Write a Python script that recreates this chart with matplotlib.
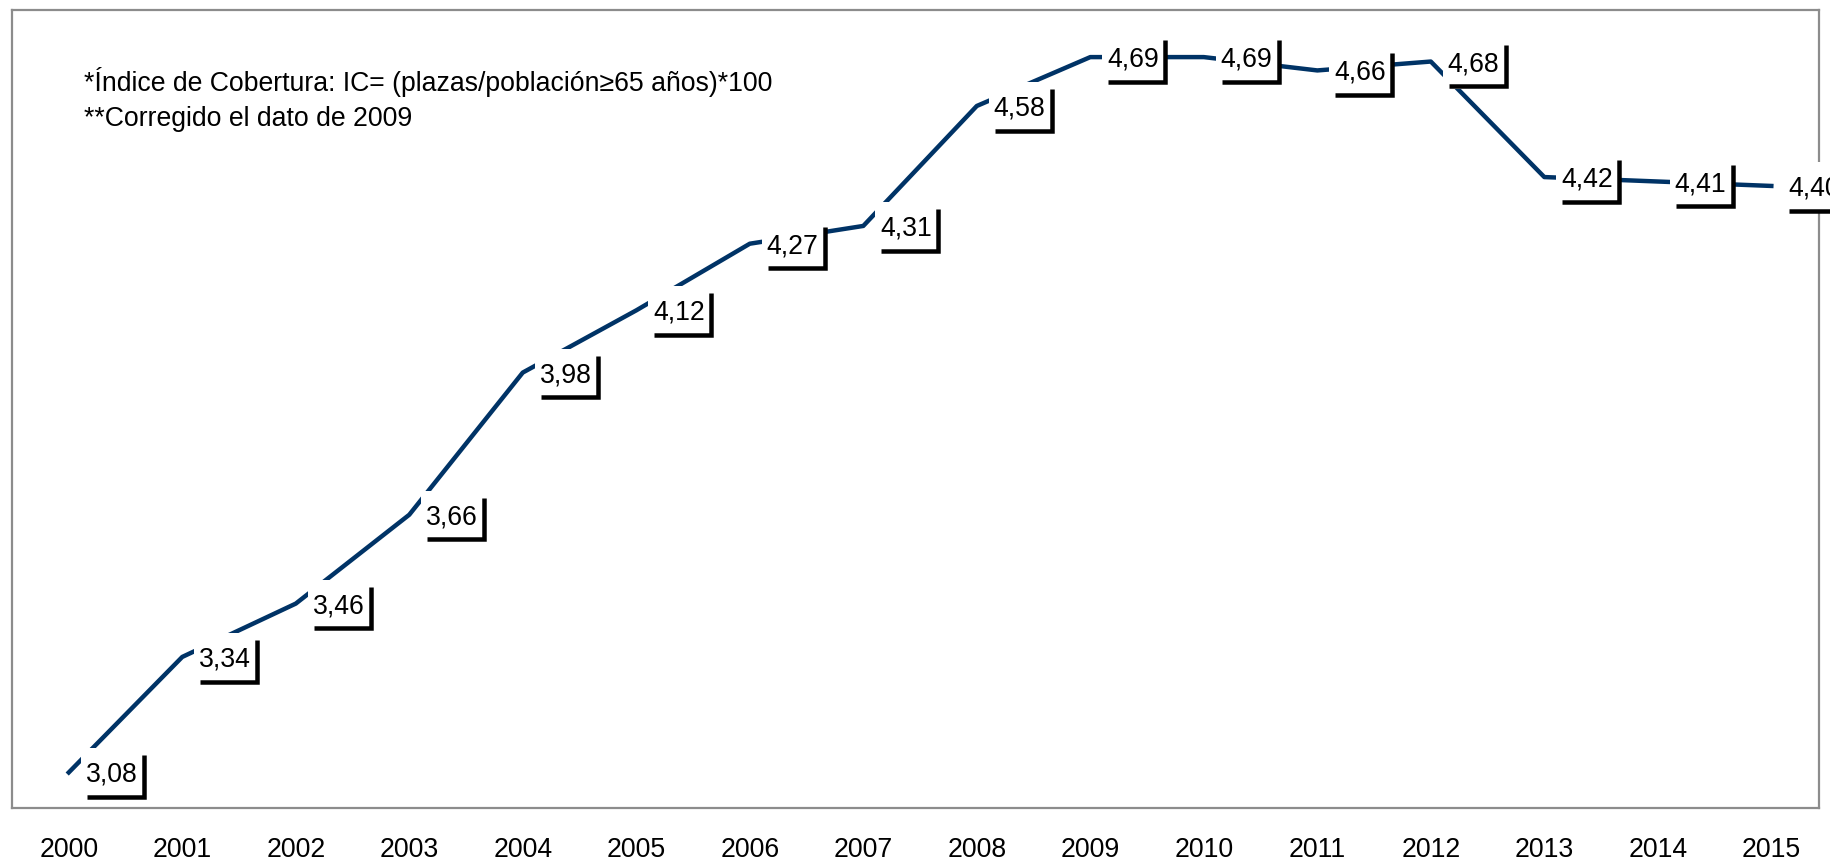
import matplotlib
matplotlib.use('Agg')
import matplotlib.pyplot as plt
from matplotlib.patches import Rectangle
from matplotlib.lines import Line2D
from matplotlib.transforms import IdentityTransform

# datos: indice de cobertura por año
anios = ['2000', '2001', '2002', '2003', '2004', '2005', '2006', '2007',
         '2008', '2009', '2010', '2011', '2012', '2013', '2014', '2015']
valores = [3.08, 3.34, 3.46, 3.66, 3.98, 4.12, 4.27, 4.31,
           4.58, 4.69, 4.69, 4.66, 4.68, 4.42, 4.41, 4.40]
notas = ['*Índice de Cobertura: IC= (plazas/población≥65 años)*100',
         '**Corregido el dato de 2009']

plt.rcParams['font.family'] = ['Liberation Sans', 'DejaVu Sans']
DPI = 100
fs = 19.2

fig = plt.figure(figsize=(18.31, 8.61), dpi=DPI)
ax = fig.add_axes([12 / 1831, 53 / 861, 1807 / 1831, 798 / 861])
x = list(range(len(anios)))
ax.plot(x, valores, color='#003366', lw=3.2, solid_joinstyle='round', zorder=2)
ax.set_xlim(-0.5, 15.42)
ax.set_ylim(3.0, 4.796)
ax.set_xticks(x)
ax.set_xticklabels(anios, fontsize=fs)
ax.set_yticks([])
ax.tick_params(axis='x', length=0, pad=21)
for s in ax.spines.values():
    s.set_color('#8c8c8c')
    s.set_linewidth(1.6)

# notas arriba a la izquierda
ax.text(0.0398, 0.8985, notas[0], transform=ax.transAxes, fontsize=fs, va='baseline', ha='left')
ax.text(0.0398, 0.8546, notas[1], transform=ax.transAxes, fontsize=fs, va='baseline', ha='left')

# etiquetas de datos con caja blanca y esquina negra (en pixeles)
# la ultima se sale del marco y la corta el borde de la imagen, como en el original
lw_bar = 4.5
for i, v in enumerate(valores):
    px, py = ax.transData.transform((i, v))
    caja = Rectangle((px + 12, py - 27), 65, 51, transform=IdentityTransform(),
                     facecolor='white', edgecolor='none', zorder=3, clip_on=False)
    ax.add_patch(caja)
    esquina = Line2D([px + 18, px + 77 - lw_bar / 2, px + 77 - lw_bar / 2],
                     [py - 27 + lw_bar / 2, py - 27 + lw_bar / 2, py + 17],
                     transform=IdentityTransform(), color='black',
                     lw=lw_bar * 72 / DPI, solid_joinstyle='miter',
                     solid_capstyle='butt', zorder=4, clip_on=False)
    ax.add_line(esquina)
    ax.text(px + 17, py - 9.5, f'{v:.2f}'.replace('.', ','), transform=IdentityTransform(),
            fontsize=fs, ha='left', va='baseline', zorder=5, clip_on=False)

fig.savefig('out.png', dpi=DPI)
